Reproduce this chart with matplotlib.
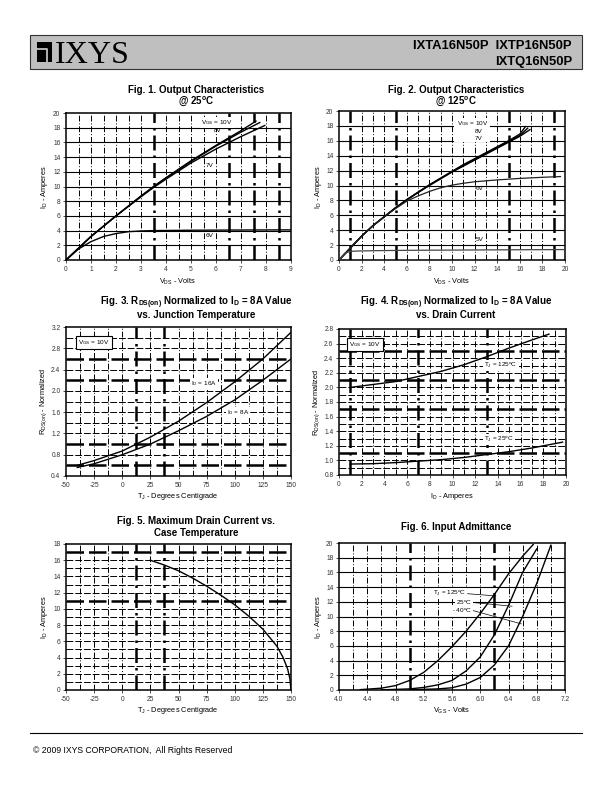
import matplotlib.pyplot as plt
import numpy as np
from matplotlib.patches import Rectangle
from matplotlib.lines import Line2D

plt.rcParams['font.family'] = ['Liberation Sans', 'DejaVu Sans']
plt.rcParams['mathtext.default'] = 'regular'

# ---- data ----
# Fig 1: output characteristics @ 25C
f1_v10 = [0, 1, 2, 3, 3.5, 4, 5, 6, 7, 7.6]
f1_i10 = [0, 3.2, 6.0, 8.7, 10.0, 11.2, 13.5, 15.6, 17.6, 18.9]
f1_v8 = [0, 1, 2, 3, 3.5, 4, 5, 6, 7, 7.75]
f1_i8 = [0, 3.2, 6.0, 8.7, 9.95, 11.15, 13.4, 15.5, 17.4, 18.7]
f1_v7 = [0, 1, 2, 3, 3.5, 4, 5, 6, 7, 7.95]
f1_i7 = [0, 3.2, 6.0, 8.6, 9.85, 11.0, 13.2, 15.1, 16.8, 18.3]
f1_v6 = [0, 0.5, 1, 1.5, 2, 2.5, 3, 3.5, 5, 7, 9]
f1_i6 = [0, 1.5, 2.5, 3.2, 3.6, 3.85, 3.95, 4.0, 4.05, 4.08, 4.1]

# Fig 2: output characteristics @ 125C
f2_v10 = [0, 1, 2, 3, 4, 5, 6, 7, 8, 9, 10, 11, 12, 13, 14, 15, 16, 16.5]
f2_i10 = [0, 1.6, 3.2, 4.6, 5.8, 7.0, 8.1, 9.1, 10.1, 11.0, 11.9, 12.8, 13.6, 14.4, 15.2, 16.0, 16.9, 17.9]
f2_v8 = [0, 1, 2, 3, 4, 5, 6, 7, 8, 9, 10, 11, 12, 13, 14, 15, 16, 16.7]
f2_i8 = [0, 1.6, 3.2, 4.6, 5.8, 7.0, 8.1, 9.1, 10.05, 10.95, 11.85, 12.7, 13.5, 14.3, 15.1, 15.9, 16.7, 17.7]
f2_v7 = [0, 1, 2, 3, 4, 5, 6, 7, 8, 9, 10, 11, 12, 13, 14, 15, 16, 16.9]
f2_i7 = [0, 1.6, 3.2, 4.6, 5.8, 7.0, 8.05, 9.05, 10.0, 10.9, 11.8, 12.6, 13.4, 14.2, 15.0, 15.8, 16.6, 17.5]
f2_v6 = [0, 1, 2, 3, 4, 5, 6, 7, 8, 9, 10, 11, 12, 14, 16, 18, 19.6]
f2_i6 = [0, 1.6, 3.2, 4.6, 5.8, 6.9, 7.9, 8.6, 9.2, 9.7, 10.05, 10.3, 10.5, 10.75, 10.95, 11.1, 11.2]
f2_v5 = [0, 0.5, 1, 1.5, 3, 6, 10, 15, 20]
f2_i5 = [0, 0.9, 1.15, 1.2, 1.25, 1.3, 1.33, 1.37, 1.4]

# Fig 3: RDS(on) vs junction temperature
f3_t = [-40, -25, 0, 25, 50, 75, 100, 125, 150]
f3_r16 = [0.6, 0.69, 0.87, 1.13, 1.43, 1.78, 2.17, 2.6, 3.1]
f3_r8 = [0.56, 0.63, 0.8, 1.0, 1.25, 1.52, 1.83, 2.2, 2.6]

# Fig 4: RDS(on) vs drain current
f4_i125 = [1, 3, 5, 7, 9, 11, 13, 15, 17, 18.5]
f4_r125 = [2.0, 2.04, 2.08, 2.15, 2.22, 2.31, 2.42, 2.54, 2.65, 2.73]
f4_i25 = [1, 3, 5, 7, 9, 11, 13, 15, 17, 19.7]
f4_r25 = [0.95, 0.955, 0.97, 0.99, 1.01, 1.04, 1.08, 1.12, 1.17, 1.25]

# Fig 5: max drain current vs case temperature
f5_t = [25, 37.5, 50, 62.5, 75, 87.5, 100, 112.5, 125, 137.5, 143, 147, 149, 150]
f5_i = [16.0, 15.4, 14.7, 13.8, 12.8, 11.7, 10.5, 9.1, 7.5, 5.4, 4.0, 2.6, 1.4, 0]

# Fig 6: input admittance
f6_v125 = [4.3, 4.6, 4.8, 5.0, 5.2, 5.4, 5.6, 5.8, 6.0, 6.2, 6.4, 6.6, 6.75]
f6_i125 = [0.05, 0.25, 0.6, 1.3, 2.4, 4.0, 5.9, 8.0, 10.4, 13.0, 15.8, 18.2, 19.8]
f6_v25 = [4.6, 5.0, 5.2, 5.4, 5.6, 5.8, 6.0, 6.2, 6.4, 6.6, 6.8]
f6_i25 = [0.02, 0.15, 0.35, 0.7, 1.3, 2.6, 4.5, 7.5, 11.5, 16.0, 19.2]
f6_vm40 = [5.0, 5.4, 5.6, 5.8, 6.0, 6.2, 6.4, 6.6, 6.8, 7.0]
f6_im40 = [0.03, 0.15, 0.3, 0.8, 1.7, 3.4, 6.0, 10.0, 14.5, 19.7]

W, H = 612, 792
fig = plt.figure(figsize=(6.12, 7.92), dpi=100)


def px(l, t, r, b):
    return [l / W, 1 - b / H, (r - l) / W, (b - t) / H]


def ftext(x, y, s, **kw):
    fig.text(x / W, 1 - y / H, s, **kw)


def make_ax(rect, xlim, ylim, xticks, yticks, vgrid, hgrid, thick_v=(), thick_h=(),
            solid_h=False, xfmt='{:g}', yfmt='{:g}'):
    ax = fig.add_axes(px(*rect))
    ax.set_xlim(*xlim)
    ax.set_ylim(*ylim)
    ax.set_xticks(xticks)
    ax.set_yticks(yticks)
    ax.set_xticklabels([xfmt.format(v) for v in xticks])
    ax.set_yticklabels([yfmt.format(v) for v in yticks])
    ax.tick_params(labelsize=4.8, length=2, width=0.6, colors='#333333', pad=2)
    for s in ax.spines.values():
        s.set_linewidth(1.1)
    dd = (6, 2, 1, 2)
    for x in vgrid:
        lw = 1.8 if any(abs(x - t) < 1e-6 for t in thick_v) else 0.7
        ax.axvline(x, color='black', lw=lw, dashes=dd, zorder=1)
    for y in hgrid:
        if solid_h:
            ax.axhline(y, color='black', lw=0.8, zorder=1)
        else:
            lw = 1.8 if any(abs(y - t) < 1e-6 for t in thick_h) else 0.7
            ax.axhline(y, color='black', lw=lw, dashes=(7, 2), zorder=1)
    return ax


lab = dict(fontsize=4.6, zorder=5)
wbox = dict(fc='white', ec='none', pad=0.8)

# ---- header ----
fig.patches.append(Rectangle((30 / W, 1 - 69 / H), 552 / W, 34 / H, transform=fig.transFigure,
                             fc='#bfbfbf', ec='#333333', lw=0.8))
fig.patches.append(Rectangle((37 / W, 1 - 62 / H), 15 / W, 20 / H, transform=fig.transFigure,
                             fc='black', ec='none'))
fig.lines.append(Line2D([37 / W, 47 / W, 47 / W], [1 - 49 / H, 1 - 49 / H, 1 - 62 / H],
                        transform=fig.transFigure, color='#bfbfbf', lw=1.3))
ftext(55, 63, 'IXYS', fontsize=23, family='Liberation Serif', ha='left', va='baseline')
ftext(572, 49, 'IXTA16N50P  IXTP16N50P', fontsize=9.4, weight='bold', ha='right', va='baseline')
ftext(572, 65, 'IXTQ16N50P', fontsize=9.4, weight='bold', ha='right', va='baseline')

tkw = dict(fontsize=7.0, weight='bold', ha='center', va='baseline')
akw = dict(fontsize=5.3, ha='center', va='center')

# ---- Fig 1 ----
ax1 = make_ax((66, 113, 291, 260), (0, 9), (0, 20), range(0, 10), range(0, 21, 2),
              np.arange(0.5, 9, 0.5), range(2, 20, 2), thick_v=(3.5, 6.5, 7.5, 8.5), solid_h=True)
for v, i in [(f1_v10, f1_i10), (f1_v8, f1_i8), (f1_v7, f1_i7), (f1_v6, f1_i6)]:
    ax1.plot(v, i, color='black', lw=1.0, zorder=3)
ax1.text(5.4, 18.5, r'V$_{GS}$ = 10V', bbox=wbox, **lab)
ax1.text(5.9, 17.4, '8V', **lab)
ax1.text(5.6, 12.7, '7V', **lab)
ax1.text(5.6, 3.1, '6V', **lab)
ftext(196, 93, 'Fig. 1. Output Characteristics', **tkw)
ftext(196, 104, r'@ 25$^o$C', **tkw)
ftext(178, 282, r'V$_{DS}$ - Volts', **akw)
ftext(45, 187, r'I$_D$ - Amperes', rotation=90, **akw)

# ---- Fig 2 ----
ax2 = make_ax((339, 111, 565, 260), (0, 20), (0, 20), range(0, 21, 2), range(0, 21, 2),
              range(1, 20), range(2, 20, 2), thick_v=(1, 5, 15, 19), solid_h=True)
ax2.add_patch(Rectangle((10.2, 15.8), 3.2, 3.2, fc='white', ec='none', zorder=2))
for v, i in [(f2_v10, f2_i10), (f2_v8, f2_i8), (f2_v7, f2_i7)]:
    ax2.plot(v, i, color='black', lw=1.0, zorder=3)
ax2.plot(f2_v6, f2_i6, color='#222222', lw=0.9, zorder=3)
ax2.plot(f2_v5, f2_i5, color='#444444', lw=0.9, zorder=3)
ax2.text(10.4, 18.1, r'V$_{GS}$ = 10V', **lab)
ax2.text(12.0, 17.1, '8V', **lab)
ax2.text(12.0, 16.1, '7V', **lab)
ax2.text(12.1, 9.4, '6V', **lab)
ax2.text(12.1, 2.5, '5V', **lab)
ftext(456, 93, 'Fig. 2. Output Characteristics', **tkw)
ftext(456, 104, r'@ 125$^o$C', **tkw)
ftext(452, 282, r'V$_{DS}$ - Volts', **akw)
ftext(318, 187, r'I$_D$ - Amperes', rotation=90, **akw)

# ---- Fig 3 ----
y3 = [0.4, 0.8, 1.2, 1.6, 2.0, 2.4, 2.8, 3.2]
ax3 = make_ax((66, 327, 291, 476), (-50, 150), (0.4, 3.2), range(-50, 151, 25), y3,
              np.arange(-37.5, 150, 12.5), np.arange(0.6, 3.19, 0.2),
              thick_v=(12.5, 37.5), thick_h=(0.6, 1.0, 2.2, 2.6), yfmt='{:.1f}')
ax3.plot(f3_t, f3_r16, color='black', lw=1.0, zorder=3)
ax3.plot(f3_t, f3_r8, color='black', lw=1.0, zorder=3)
ax3.text(-39, 2.88, r'V$_{GS}$ = 10V', bbox=dict(fc='white', ec='black', lw=0.8, pad=1.5), **lab)
ax3.text(61, 2.1, r'I$_D$ = 16A', bbox=wbox, **lab)
ax3.text(93, 1.57, r'I$_D$ = 8A', bbox=wbox, **lab)
ftext(196, 305, r'Fig. 3. R$_{DS(on)}$ Normalized to I$_D$ = 8A Value', **tkw)
ftext(196, 318, 'vs. Junction Temperature', **tkw)
ftext(178, 497, r'T$_J$ - Degrees Centigrade', **akw)
ftext(44, 401, r'R$_{DS(on)}$ - Normalized', rotation=90, **akw)

# ---- Fig 4 ----
y4 = [0.8, 1.0, 1.2, 1.4, 1.6, 1.8, 2.0, 2.2, 2.4, 2.6, 2.8]
ax4 = make_ax((339, 329, 566, 475), (0, 20), (0.8, 2.8), range(0, 21, 2), y4,
              range(1, 20), np.arange(0.9, 2.79, 0.1),
              thick_v=(1, 7, 13), thick_h=(1.1, 1.7, 2.1, 2.5), yfmt='{:.1f}')
ax4.plot(f4_i125, f4_r125, color='black', lw=1.0, zorder=3)
ax4.plot(f4_i25, f4_r25, color='black', lw=1.0, zorder=3)
ax4.text(0.9, 2.57, r'V$_{GS}$ = 10V', bbox=dict(fc='white', ec='black', lw=0.8, pad=1.5), **lab)
ax4.text(12.8, 2.28, r'T$_J$ = 125$^o$C', bbox=wbox, **lab)
ax4.text(12.8, 1.26, r'T$_J$ = 25$^o$C', bbox=wbox, **lab)
ftext(456, 305, r'Fig. 4. R$_{DS(on)}$ Normalized to I$_D$ = 8A Value', **tkw)
ftext(456, 318, 'vs. Drain Current', **tkw)
ftext(452, 497, r'I$_D$ - Amperes', **akw)
ftext(317, 402, r'R$_{DS(on)}$ - Normalized', rotation=90, **akw)

# ---- Fig 5 ----
ax5 = make_ax((66, 544, 291, 690), (-50, 150), (0, 18), range(-50, 151, 25), range(0, 19, 2),
              np.arange(-37.5, 150, 12.5), range(1, 18), thick_v=(12.5, 37.5), thick_h=(11, 17))
ax5.plot(f5_t, f5_i, color='black', lw=1.0, zorder=3)
ftext(196, 524, 'Fig. 5. Maximum Drain Current vs.', **tkw)
ftext(196, 536, 'Case Temperature', **tkw)
ftext(178, 711, r'T$_J$ - Degrees Centigrade', **akw)
ftext(45, 617, r'I$_D$ - Amperes', rotation=90, **akw)

# ---- Fig 6 ----
x6 = [4.0, 4.4, 4.8, 5.2, 5.6, 6.0, 6.4, 6.8, 7.2]
ax6 = make_ax((339, 543, 565, 690), (4.0, 7.2), (0, 20), x6, range(0, 21, 2),
              np.arange(4.2, 7.19, 0.2), range(2, 20, 2), thick_v=(5.0, 6.2), solid_h=True,
              xfmt='{:.1f}')
ax6.plot(f6_v125, f6_i125, color='black', lw=1.0, zorder=3)
ax6.plot(f6_v25, f6_i25, color='black', lw=1.0, zorder=3)
ax6.plot(f6_vm40, f6_im40, color='black', lw=1.0, zorder=3)
ax6.text(5.8, 13.1, r'T$_J$ = 125$^o$C', ha='right', va='center', bbox=wbox, **lab)
ax6.text(5.88, 11.9, r'25$^o$C', ha='right', va='center', bbox=wbox, **lab)
ax6.text(5.88, 10.8, r'- 40$^o$C', ha='right', va='center', bbox=wbox, **lab)
ax6.plot([5.82, 6.22], [13.1, 12.8], color='black', lw=0.5, zorder=4)
ax6.plot([5.9, 6.45], [11.9, 11.4], color='black', lw=0.5, zorder=4)
ax6.plot([5.9, 6.58], [10.8, 9.0], color='black', lw=0.5, zorder=4)
ftext(456, 530, 'Fig. 6. Input Admittance', **tkw)
ftext(452, 711, r'V$_{GS}$ - Volts', **akw)
ftext(318, 617, r'I$_D$ - Amperes', rotation=90, **akw)

# ---- footer ----
fig.lines.append(Line2D([30 / W, 582 / W], [1 - 733 / H, 1 - 733 / H], transform=fig.transFigure,
                        color='black', lw=0.8))
ftext(33, 753, '\u00a9 2009 IXYS CORPORATION,  All Rights Reserved', fontsize=6.2, ha='left',
      va='baseline')

fig.savefig('out.png', dpi=100)
